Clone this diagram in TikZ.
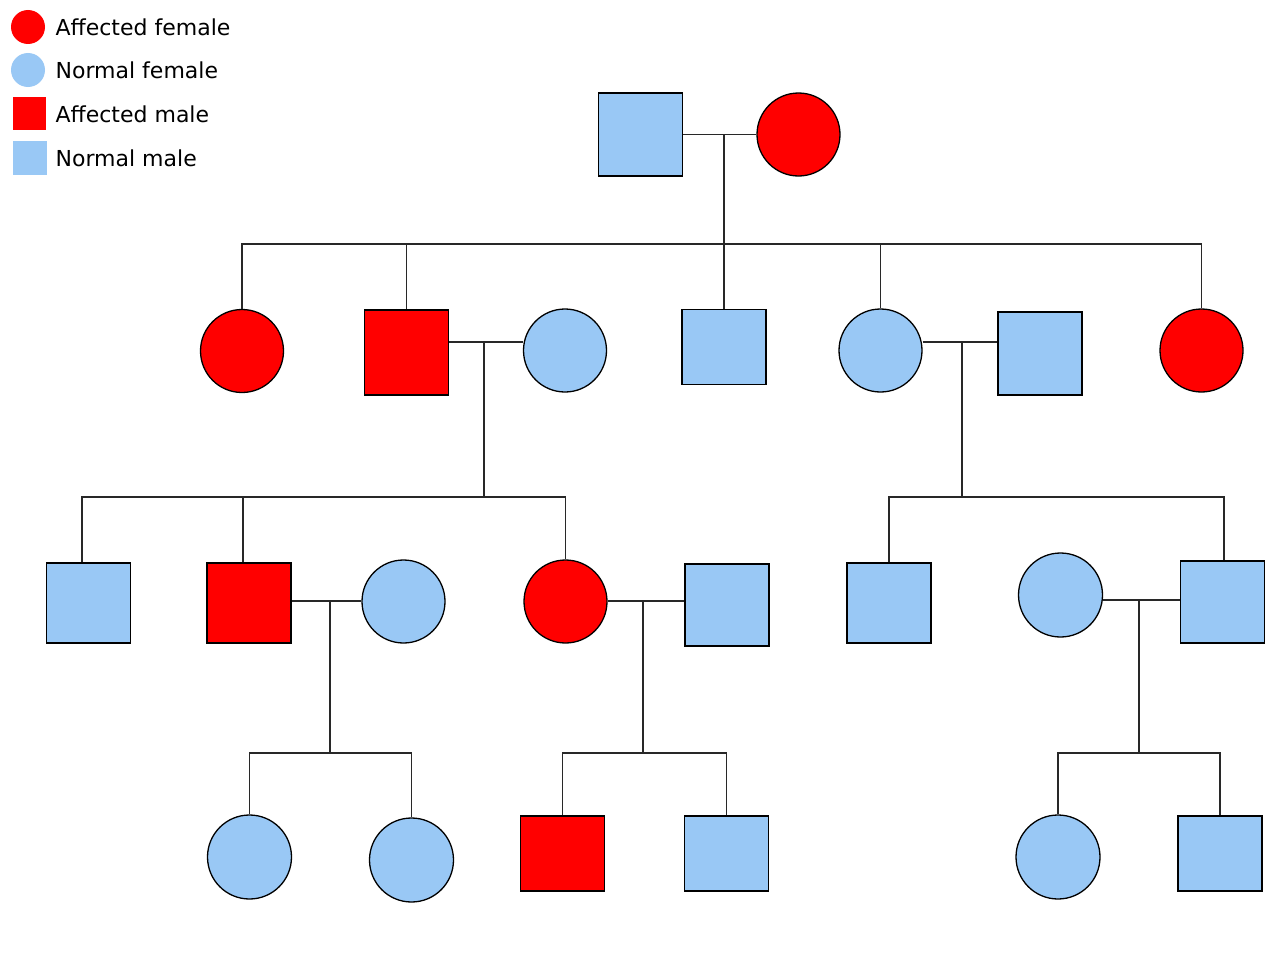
\documentclass[tikz,border=0pt]{standalone}
\usepackage{fontspec}
\setmainfont{DejaVu Sans}
\usetikzlibrary{calc}
\definecolor{affred}{RGB}{255,0,0}
\definecolor{normblue}{RGB}{153,200,245}
\definecolor{linegrey}{RGB}{40,40,40}
\begin{document}
\begin{tikzpicture}[x=1pt,y=-1pt,
  line width=1.3pt, draw=linegrey,
  fem/.style={circle,draw=black,line width=1.3pt,inner sep=0pt,minimum size=83pt},
  mal/.style={rectangle,draw=black,line width=1.3pt,inner sep=0pt,minimum width=84pt,minimum height=83pt},
  aff/.style={fill=affred},
  nor/.style={fill=normblue},
  lgsym/.style={inner sep=0pt,draw=none},
  lgtext/.style={anchor=west,inner sep=0pt,font=\fontsize{22pt}{24pt}\selectfont}]
\useasboundingbox (0,0) rectangle (1274,958);
\fill[white] (0,0) rectangle (1274,958);

% legend
\node[lgsym,circle,fill=affred,minimum size=34pt] (lafem) at (28,27) {};
\node[lgsym,circle,fill=normblue,minimum size=34pt] (lnfem) at (28,70) {};
\node[lgsym,rectangle,fill=affred,minimum size=33pt] (lamal) at (29.5,113.5) {};
\node[lgsym,rectangle,fill=normblue,minimum size=34pt] (lnmal) at (30,158) {};
\node[lgtext] (tafem) at (55,27) {Affected female};
\node[lgtext] (tnfem) at (55,70) {Normal female};
\node[lgtext] (tamal) at (55,114) {Affected male};
\node[lgtext] (tnmal) at (55,158) {Normal male};

% generation I
\node[mal,nor] (i1) at (640.5,134.5) {};
\node[fem,aff] (i2) at (798.5,134.5) {};

% generation II
\node[fem,aff] (ii1) at (242,351) {};
\node[mal,aff,minimum height=85pt] (ii2) at (406.5,352.5) {};
\node[fem,nor] (ii3) at (565,350.5) {};
\node[mal,nor,minimum height=75pt] (ii4) at (724,347) {};
\node[fem,nor] (ii5) at (880.5,350.5) {};
\node[mal,nor] (ii6) at (1040,353.5) {};
\node[fem,aff] (ii7) at (1201.5,350.5) {};

% generation III
\node[mal,nor,minimum height=80pt] (iii1) at (88.5,603) {};
\node[mal,aff,minimum height=80pt] (iii2) at (249,603) {};
\node[fem,nor] (iii3) at (403.5,601.5) {};
\node[fem,aff] (iii4) at (565.5,601.5) {};
\node[mal,nor,minimum height=82pt] (iii5) at (727,605) {};
\node[mal,nor,minimum height=80pt] (iii6) at (889,603) {};
\node[fem,nor,minimum size=84pt] (iii7) at (1060.5,595) {};
\node[mal,nor,minimum height=82pt] (iii8) at (1222.5,602) {};

% generation IV
\node[fem,nor,minimum size=84pt] (iv1) at (249.5,857) {};
\node[fem,nor,minimum size=84pt] (iv2) at (411.5,860) {};
\node[mal,aff,minimum height=75pt] (iv3) at (562.5,853.5) {};
\node[mal,nor,minimum height=75pt] (iv4) at (726.5,853.5) {};
\node[fem,nor,minimum size=84pt] (iv5) at (1058,857) {};
\node[mal,nor,minimum height=75pt] (iv6) at (1220,853.5) {};

% marriage points and sibship junctions
\coordinate (m1) at (724,134.5);
\coordinate (s1) at (724,244);
\coordinate (m2) at (484,342);
\coordinate (s2) at (484,497);
\coordinate (m3) at (962,342);
\coordinate (s3) at (962,497);
\coordinate (m4) at (330,601);
\coordinate (s4) at (330,753);
\coordinate (m5) at (643,601);
\coordinate (s5) at (643,753);
\coordinate (m6) at (1139,600);
\coordinate (s6) at (1139,753);

% off-centre drop points
\coordinate (d31) at (82,497);
\coordinate (d32) at (243,497);
\coordinate (d38) at (1224,497);

% marriage lines
\draw (i1.east |- m1) -- (i2.west |- m1);
\draw (ii2.east |- m2) -- (ii3.west |- m2);
\draw (ii5.east |- m3) -- (ii6.west |- m3);
\draw (iii2.east |- m4) -- (iii3.west |- m4);
\draw (iii4.east |- m5) -- (iii5.west |- m5);
\draw (iii7.east |- m6) -- (iii8.west |- m6);

% descent lines
\draw (m1) -- (s1);
\draw (m2) -- (s2);
\draw (m3) -- (s3);
\draw (m4) -- (s4);
\draw (m5) -- (s5);
\draw (m6) -- (s6);

% sibship lines and drops
\draw (s1) -| (ii1);
\draw (s1) -| (ii2);
\draw (s1) -- (ii4);
\draw (s1) -| (ii5);
\draw (s1) -| (ii7);

\draw (s2) -- (d31) -- (d31 |- iii1.north);
\draw (d32) -- (d32 |- iii2.north);
\draw (s2) -| (iii4);
\draw (s3) -| (iii6);
\draw (s3) -- (d38) -- (d38 |- iii8.north);

\draw (s4) -| (iv1);
\draw (s4) -| (iv2);
\draw (s5) -| (iv3);
\draw (s5) -| (iv4);
\draw (s6) -| (iv5);
\draw (s6) -| (iv6);
\end{tikzpicture}
\end{document}
